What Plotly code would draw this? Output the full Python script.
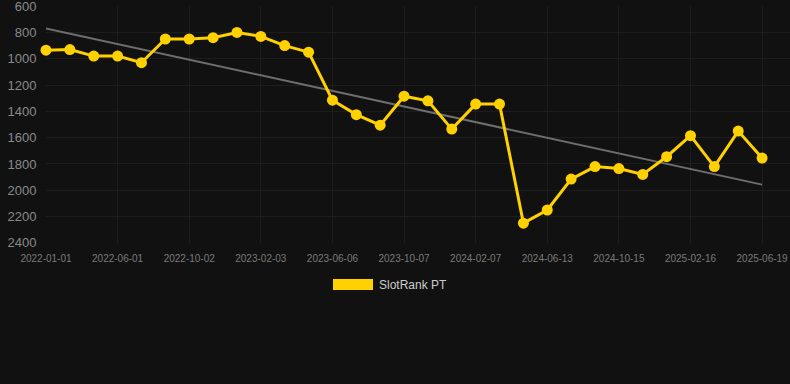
import numpy as np
import plotly.graph_objects as go

# --- data ---
tick_labels = ["2022-01-01", "2022-06-01", "2022-10-02", "2023-02-03", "2023-06-06",
               "2023-10-07", "2024-02-07", "2024-06-13", "2024-10-15", "2025-02-16",
               "2025-06-19"]
rank_values = [935, 930, 980, 980, 1030, 850, 850, 840, 800, 830,
               900, 950, 1315, 1425, 1505, 1285, 1320, 1535, 1345, 1345,
               2250, 2150, 1915, 1820, 1835, 1880, 1745, 1585, 1820, 1550, 1755]
series_name = "SlotRank PT"

W, H = 790, 384
L, R, T, B = 46, 0, 6, 141

x_idx = np.arange(len(rank_values))
slope, intercept = np.polyfit(x_idx, rank_values, 1)
trend = slope * x_idx + intercept

YELLOW = "#FFD100"
BG = "#111111"
GRID = "#1d1d1d"

fig = go.Figure()
fig.add_trace(go.Scatter(
    x=[x_idx[0], x_idx[-1]], y=[trend[0], trend[-1]], mode="lines",
    line=dict(color="#6e6e6e", width=2), hoverinfo="skip", showlegend=False))
fig.add_trace(go.Scatter(
    x=x_idx, y=rank_values, mode="lines+markers", name=series_name,
    line=dict(color=YELLOW, width=3),
    marker=dict(color=YELLOW, size=11), cliponaxis=False, showlegend=False))

step = 3
fig.update_layout(
    width=W, height=H,
    margin=dict(l=L, r=R, t=T, b=B),
    paper_bgcolor=BG, plot_bgcolor=BG,
    font=dict(family="Liberation Sans, Arial, sans-serif", color="#8a8a8a"),
    xaxis=dict(
        range=[0, (W - L) / 23.87],
        tickmode="array",
        tickvals=list(x_idx[::step]),
        ticktext=tick_labels,
        showgrid=True, gridcolor=GRID, gridwidth=1,
        zeroline=False, showline=False,
        ticks="outside", ticklen=6, tickcolor="rgba(0,0,0,0)",
        tickfont=dict(size=10, color="#7a7a7a"),
        ticklabeloverflow="allow",
    ),
    yaxis=dict(
        range=[2401, 599],
        tickmode="linear", tick0=600, dtick=200,
        showgrid=True, gridcolor=GRID, gridwidth=1,
        zeroline=False, showline=False,
        ticks="outside", ticklen=6, tickcolor="rgba(0,0,0,0)",
        tickfont=dict(size=13, color="#8a8a8a"),
        ticklabeloverflow="allow",
    ),
    showlegend=False,
)

# legend (drawn box + label)
def px_x(p):
    return (p - L) / (W - L - R)

def px_y(p):
    return 1 - (p - T) / (H - T - B)

fig.add_shape(type="rect", xref="paper", yref="paper",
              x0=px_x(333), x1=px_x(373), y0=px_y(290), y1=px_y(279),
              fillcolor=YELLOW, line=dict(width=0))
fig.add_annotation(xref="paper", yref="paper", x=px_x(377), y=px_y(285),
                   text=series_name, showarrow=False, xanchor="left", yanchor="middle",
                   font=dict(size=12, color="#cccccc"))

fig.write_html("out.html", config={"displayModeBar": False},
               post_script="document.body.style.margin='0';document.body.style.background='#111111';")
